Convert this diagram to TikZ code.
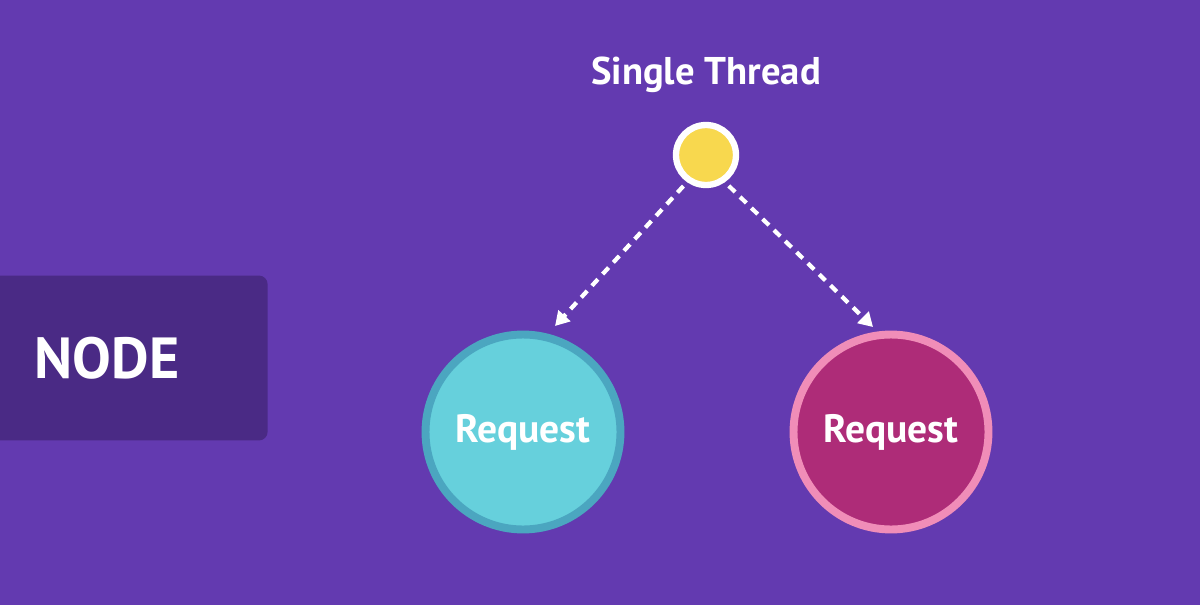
\documentclass[tikz,border=0pt]{standalone}
\usepackage{fontspec}
\setmainfont{PT Sans}
\usetikzlibrary{arrows.meta}
\definecolor{bgpurple}{HTML}{633AB0}
\definecolor{boxpurple}{HTML}{4A2A85}
\definecolor{threadyellow}{HTML}{F8D84E}
\definecolor{cyanfill}{HTML}{66D0DC}
\definecolor{cyanring}{HTML}{4BA6C0}
\definecolor{pinkfill}{HTML}{AE2C78}
\definecolor{pinkring}{HTML}{F08DB8}

\begin{document}
\begin{tikzpicture}
[
x=0.02cm,y=-0.02cm,
request/.style 2 args={draw=#1,fill=#2,circle,line width=4.5pt,minimum size=3.9cm,
  text=white,font=\fontsize{22.5}{26}\selectfont\bfseries},
flow/.style={draw=white,line width=2.4pt,dash pattern=on 5pt off 4pt,
  -{Triangle[width=9pt,length=8pt]}},
]
\useasboundingbox (0,0) rectangle (1200,605);
\clip (0,0) rectangle (1200,605);
\fill[bgpurple] (0,0) rectangle (1200,605);

%Place the nodes
\node[fill=boxpurple,rounded corners=5pt,minimum width=5.9cm,minimum height=3.3cm,anchor=east] (box) at (268,358) {};
\node[text=white,font=\fontsize{33}{38}\selectfont\bfseries] (node) at (107,358) {NODE};
\node[text=white,font=\fontsize{22}{26}\selectfont\bfseries] (title) at (706,75) {Single Thread};
\node[circle,draw=white,fill=threadyellow,line width=3.6pt,minimum size=1.2cm] (thread) at (706,155) {};
\node[request={cyanring}{cyanfill}] (left) at (523,432) {Request};
\node[request={pinkring}{pinkfill}] (right) at (891,432) {Request};

%Draw the connections
\draw[flow,shorten <=3pt] (thread.235) -- (555,326);
\draw[flow,shorten <=3pt] (thread.-55) -- (873,327);
\end{tikzpicture}
\end{document}
